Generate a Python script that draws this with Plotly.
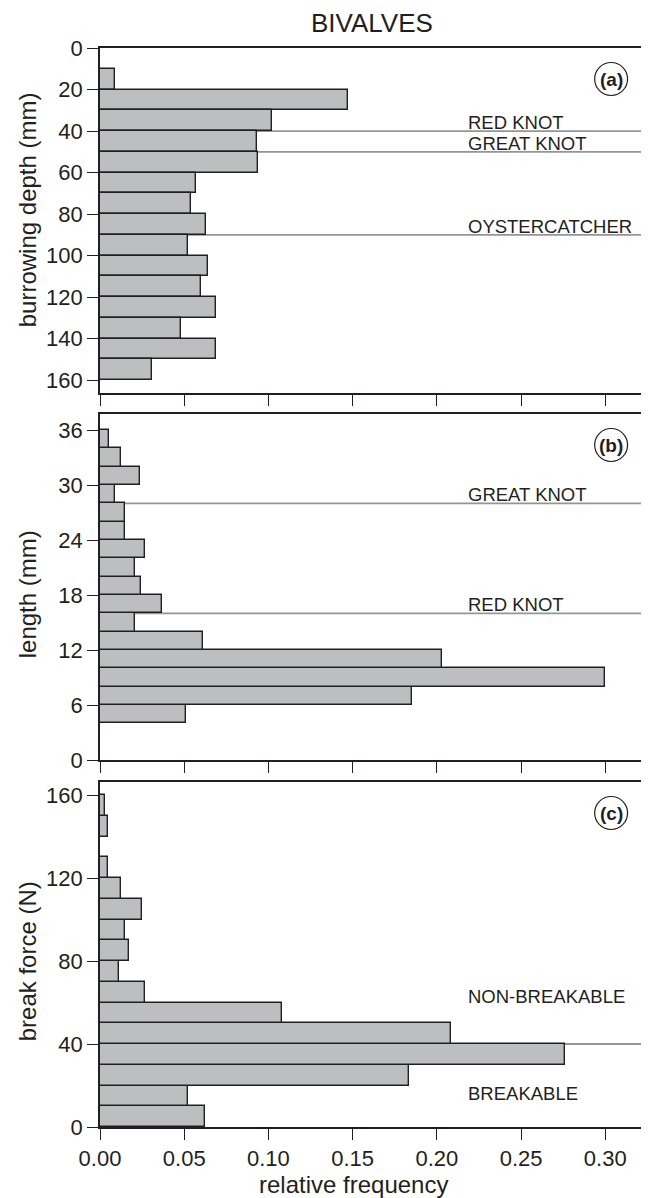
import plotly.graph_objects as go

# ---------------- data ----------------
# (a) burrowing depth, 10 mm bins (lower edges)
depth_lower = [10, 20, 30, 40, 50, 60, 70, 80, 90, 100, 110, 120, 130, 140, 150]
depth_freq = [0.009, 0.147, 0.102, 0.093, 0.094, 0.057, 0.054, 0.063, 0.052,
              0.064, 0.060, 0.069, 0.048, 0.069, 0.031]
depth_bin = 10
depth_lines = [40, 50, 90]
depth_line_labels = ["RED KNOT", "GREAT KNOT", "OYSTERCATCHER"]

# (b) length, 2 mm bins (lower edges)
length_lower = [4, 6, 8, 10, 12, 14, 16, 18, 20, 22, 24, 26, 28, 30, 32, 34]
length_freq = [0.051, 0.185, 0.300, 0.203, 0.061, 0.021, 0.037, 0.0245, 0.021,
               0.027, 0.015, 0.015, 0.009, 0.0235, 0.0125, 0.0055]
length_bin = 2
length_lines = [28, 16]
length_line_labels = ["GREAT KNOT", "RED KNOT"]

# (c) break force, 10 N bins (lower edges)
force_lower = [0, 10, 20, 30, 40, 50, 60, 70, 80, 90, 100, 110, 120, 140, 150]
force_freq = [0.0625, 0.052, 0.1835, 0.276, 0.2085, 0.108, 0.027, 0.011, 0.017,
              0.015, 0.025, 0.0125, 0.005, 0.0045, 0.003]
force_bin = 10
force_threshold = 40
force_labels = ["NON-BREAKABLE", "BREAKABLE"]
force_label_y = [63, 16]

panel_tags = ["(a)", "(b)", "(c)"]
x_ticks = [0.00, 0.05, 0.10, 0.15, 0.20, 0.25, 0.30]

# ---------------- style ----------------
FONT = "Liberation Sans, Arial, Helvetica, sans-serif"
DARK = "#231f20"
BAR_FILL = "#bcbec0"
REF_LINE = "#939598"

OFF = 8  # page body margin
W, H = 649 - OFF, 1198 - OFF
# plot area in page pixels: x 100..646, y 48..1127
ML = 100 - OFF
MR = W - (646 - OFF)
MT = 48 - OFF
MB = H - (1127 - OFF)
PW = W - ML - MR
PH = H - MT - MB


def py(ypage):
    return (1127 - ypage) / PH


def px_(xpage):
    return (xpage - 100) / PW


fig = go.Figure()


def add_bars(lower, freq, binw, yaxis, xaxis):
    fig.add_trace(go.Bar(
        x=freq,
        y=[l + binw / 2 for l in lower],
        width=[binw] * len(lower),
        orientation="h",
        base=0,
        marker=dict(color=BAR_FILL, line=dict(color=DARK, width=1.4)),
        xaxis=xaxis, yaxis=yaxis,
        showlegend=False, hoverinfo="skip",
    ))


add_bars(depth_lower, depth_freq, depth_bin, "y", "x")
add_bars(length_lower, length_freq, length_bin, "y2", "x2")
add_bars(force_lower, force_freq, force_bin, "y3", "x3")

shapes = []
annotations = []

label_x = 0.2175
lab_font = dict(family=FONT, size=18.5, color=DARK)


def ref_line(yval, xref, yref):
    shapes.append(dict(type="line", xref=xref + " domain", yref=yref,
                       x0=0, x1=1, y0=yval, y1=yval, layer="below",
                       line=dict(color=REF_LINE, width=1.8)))


for v, t in zip(depth_lines, depth_line_labels):
    ref_line(v, "x", "y")
    annotations.append(dict(x=label_x, y=v, xref="x", yref="y", text=t,
                            showarrow=False, xanchor="left", yanchor="bottom",
                            yshift=-4, font=lab_font))

for v, t in zip(length_lines, length_line_labels):
    ref_line(v, "x2", "y2")
    annotations.append(dict(x=label_x, y=v, xref="x2", yref="y2", text=t,
                            showarrow=False, xanchor="left", yanchor="bottom",
                            yshift=-4, font=lab_font))

ref_line(force_threshold, "x3", "y3")
for t, yv in zip(force_labels, force_label_y):
    annotations.append(dict(x=label_x, y=yv, xref="x3", yref="y3", text=t,
                            showarrow=False, xanchor="left", yanchor="middle",
                            font=lab_font))

# panel tags in circles
panel_tops = [48, 414, 782]
for tag, top in zip(panel_tags, panel_tops):
    cx, cy, r = 613, top + 31, 16.5
    shapes.append(dict(type="circle", xref="paper", yref="paper",
                       x0=px_(cx - r), x1=px_(cx + r), y0=py(cy + r), y1=py(cy - r),
                       line=dict(color=DARK, width=1.2), layer="above"))
    annotations.append(dict(x=px_(cx), y=py(cy), xref="paper", yref="paper",
                            text="<b>" + tag + "</b>", showarrow=False,
                            xanchor="center", yanchor="middle",
                            font=dict(family=FONT, size=19, color=DARK)))

# axis titles
title_font = dict(family=FONT, size=24, color=DARK)
for text, ypix in [("burrowing depth (mm)", 210), ("length (mm)", 594),
                   ("break force (N)", 961)]:
    annotations.append(dict(x=px_(27), y=py(ypix), xref="paper", yref="paper",
                            text=text, textangle=-90, showarrow=False,
                            xanchor="center", yanchor="middle", font=title_font))
annotations.append(dict(x=px_(354), y=py(1184), xref="paper", yref="paper",
                        text="relative frequency", showarrow=False,
                        xanchor="center", yanchor="middle", font=title_font))
annotations.append(dict(x=px_(373), y=py(23), xref="paper", yref="paper",
                        text="BIVALVES", showarrow=False,
                        xanchor="center", yanchor="middle",
                        font=dict(family=FONT, size=26, color=DARK)))

tick_font = dict(family=FONT, size=22, color=DARK)
common_axis = dict(showline=True, linecolor=DARK, linewidth=1.6, mirror=True,
                   ticks="outside", ticklen=11, tickwidth=1.4, tickcolor=DARK,
                   showgrid=False, zeroline=False, tickfont=tick_font)

xr = [0, 0.323]
fig.update_layout(
    width=W, height=H,
    margin=dict(l=ML, r=MR, t=MT, b=MB),
    paper_bgcolor="white", plot_bgcolor="white",
    bargap=0,
    showlegend=False,
    shapes=shapes,
    annotations=annotations,
    xaxis=dict(common_axis, range=xr, tickvals=x_ticks, showticklabels=False,
               anchor="y", domain=[0, 1]),
    xaxis2=dict(common_axis, range=xr, tickvals=x_ticks, showticklabels=False,
                anchor="y2", domain=[0, 1]),
    xaxis3=dict(common_axis, range=xr, tickvals=x_ticks,
                ticktext=["%.2f" % v for v in x_ticks],
                anchor="y3", domain=[0, 1]),
    yaxis=dict(common_axis, range=[166.3, 0], tickvals=list(range(0, 161, 20)),
               anchor="x", domain=[py(393.3), 1.0]),
    yaxis2=dict(common_axis, range=[0, 37.75], tickvals=list(range(0, 37, 6)),
                anchor="x2", domain=[py(760), py(414)]),
    yaxis3=dict(common_axis, range=[0, 166.3], tickvals=list(range(0, 161, 40)),
                anchor="x3", domain=[0, py(782)]),
)

fig.write_html("out.html")
